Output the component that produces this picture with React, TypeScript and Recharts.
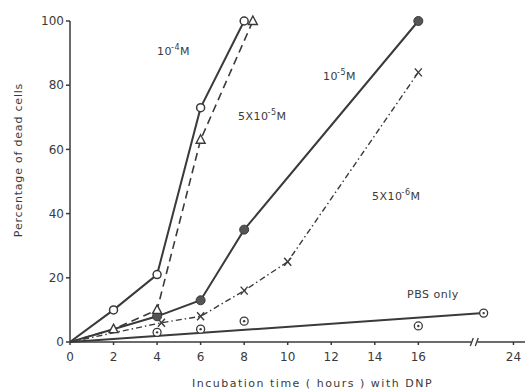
import React from 'react';
import { LineChart, Line, XAxis, YAxis, ReferenceDot } from 'recharts';

// hours and % dead cells
const TIME_1E4 = [0, 2, 4, 6, 8];
const DEAD_1E4 = [0, 10, 21, 73, 100];

const TIME_5E5 = [0, 2, 4, 6, 8.4];
const DEAD_5E5 = [0, 4, 10, 63, 100];

const TIME_1E5 = [0, 4, 6, 8, 16];
const DEAD_1E5 = [0, 8, 13, 35, 100];

const TIME_5E6 = [0, 4.2, 6, 8, 10, 16];
const DEAD_5E6 = [0, 6, 8, 16, 25, 84];

const TIME_PBS = [4, 6, 8, 16, 22];
const DEAD_PBS = [3, 4, 6.5, 5, 9];
const TIME_PBS_FIT = [0, 22];
const DEAD_PBS_FIT = [0, 9];

const X_TICKS = [0, 2, 4, 6, 8, 10, 12, 14, 16, 24];
const Y_TICKS = [0, 20, 40, 60, 80, 100];

// broken axis: linear up to 16 h, then jumps so that 22 h and 24 h sit past the break
const toAxis = (t: number) => (t <= 16 ? t : 19 + (t - 22) * 0.685);
const BREAK_AT = 18.57;

const pts = (times: number[], vals: number[]) =>
  times.map((t, i) => ({ x: toAxis(t), hours: t, y: vals[i] }));

const INK = '#3a3a3a';
const FONT = '"DejaVu Sans", sans-serif';

const OpenCircle = (p: any) =>
  p.payload.hours === 0 ? <g key={p.index} /> : (
    <circle key={p.index} cx={p.cx} cy={p.cy} r={4} fill="#fff" stroke={INK} strokeWidth={1.5} />
  );

const Triangle = (p: any) =>
  p.payload.hours === 0 ? <g key={p.index} /> : (
    <path
      key={p.index}
      d={`M${p.cx},${p.cy - 5} L${p.cx + 4.5},${p.cy + 3.5} L${p.cx - 4.5},${p.cy + 3.5} Z`}
      fill="#fff"
      stroke={INK}
      strokeWidth={1.4}
    />
  );

const FilledCircle = (p: any) =>
  p.payload.hours === 0 ? <g key={p.index} /> : (
    <circle key={p.index} cx={p.cx} cy={p.cy} r={4.5} fill="#555" stroke={INK} strokeWidth={1} />
  );

const Cross = (p: any) =>
  p.payload.hours === 0 ? <g key={p.index} /> : (
    <g key={p.index} stroke={INK} strokeWidth={1.4}>
      <line x1={p.cx - 3.5} y1={p.cy - 4} x2={p.cx + 3.5} y2={p.cy + 4} />
      <line x1={p.cx + 3.5} y1={p.cy - 4} x2={p.cx - 3.5} y2={p.cy + 4} />
    </g>
  );

const DotCircle = (p: any) => (
  <g key={p.index}>
    <circle cx={p.cx} cy={p.cy} r={4} fill="#fff" stroke={INK} strokeWidth={1.3} />
    <circle cx={p.cx} cy={p.cy} r={1.2} fill={INK} />
  </g>
);

const AxisBreak = (p: any) => (
  <g stroke={INK} strokeWidth={1.3}>
    <rect x={p.cx - 3} y={p.cy - 3} width={6} height={6} fill="#fff" stroke="none" />
    <line x1={p.cx - 4} y1={p.cy + 4} x2={p.cx - 1} y2={p.cy - 4} />
    <line x1={p.cx + 1} y1={p.cy + 4} x2={p.cx + 4} y2={p.cy - 4} />
  </g>
);

const Label = ({ left, top, children }: any) => (
  <div
    style={{
      position: 'absolute',
      left,
      top,
      fontFamily: FONT,
      fontSize: 11,
      lineHeight: '14px',
      color: INK,
      letterSpacing: 0.5,
      whiteSpace: 'nowrap',
    }}
  >
    {children}
  </div>
);

const sup = { fontSize: 8, verticalAlign: 5, marginLeft: -1 } as const;

export default function App() {
  const tick = { fill: INK, fontSize: 12, fontFamily: FONT };
  return (
    <div style={{ position: 'absolute', left: 0, top: 0, width: 525, height: 391, background: '#fff' }}>
      <LineChart width={525} height={391} margin={{ top: 21, right: 0, bottom: 19, left: 20 }}>
        <XAxis
          type="number"
          dataKey="x"
          domain={[0, 20.9]}
          ticks={X_TICKS.map(toAxis)}
          tickFormatter={(v: number) => String(X_TICKS[X_TICKS.map(toAxis).indexOf(v)] ?? '')}
          tick={tick}
          tickSize={3}
          tickMargin={7}
          height={30}
          stroke={INK}
          strokeWidth={1.5}
          allowDataOverflow
        />
        <YAxis
          type="number"
          domain={[0, 100]}
          ticks={Y_TICKS}
          tick={tick}
          tickSize={4}
          tickMargin={2}
          width={50}
          stroke={INK}
          strokeWidth={1.5}
        />
        <Line
          data={pts(TIME_PBS_FIT, DEAD_PBS_FIT)}
          dataKey="y"
          stroke={INK}
          strokeWidth={2}
          dot={false}
          isAnimationActive={false}
        />
        <Line
          data={pts(TIME_PBS, DEAD_PBS)}
          dataKey="y"
          stroke="none"
          dot={DotCircle}
          isAnimationActive={false}
        />
        <Line
          data={pts(TIME_5E6, DEAD_5E6)}
          dataKey="y"
          stroke={INK}
          strokeWidth={1.4}
          strokeDasharray="6 3 1.5 3"
          dot={Cross}
          isAnimationActive={false}
        />
        <Line
          data={pts(TIME_1E5, DEAD_1E5)}
          dataKey="y"
          stroke={INK}
          strokeWidth={2}
          dot={FilledCircle}
          isAnimationActive={false}
        />
        <Line
          data={pts(TIME_5E5, DEAD_5E5)}
          dataKey="y"
          stroke={INK}
          strokeWidth={1.6}
          strokeDasharray="8 5"
          dot={Triangle}
          isAnimationActive={false}
        />
        <Line
          data={pts(TIME_1E4, DEAD_1E4)}
          dataKey="y"
          stroke={INK}
          strokeWidth={2}
          dot={OpenCircle}
          isAnimationActive={false}
        />
        <ReferenceDot x={BREAK_AT} y={0} shape={AxisBreak} />
      </LineChart>

      <Label left={157} top={41}>
        10<span style={sup}>-4</span>M
      </Label>
      <Label left={238} top={106}>
        5X10<span style={sup}>-5</span>M
      </Label>
      <Label left={323} top={66}>
        10<span style={sup}>-5</span>M
      </Label>
      <Label left={372} top={186}>
        5X10<span style={sup}>-6</span>M
      </Label>
      <Label left={407} top={288}>
        PBS only
      </Label>

      <div
        style={{
          position: 'absolute',
          left: 192,
          top: 377,
          fontFamily: FONT,
          fontSize: 11,
          letterSpacing: 1.5,
          color: INK,
          whiteSpace: 'nowrap',
        }}
      >
        Incubation time ( hours ) with DNP
      </div>
      <div
        style={{
          position: 'absolute',
          left: 18,
          top: 160,
          transform: 'translate(-50%, -50%) rotate(-90deg)',
          fontFamily: FONT,
          fontSize: 11,
          letterSpacing: 0.8,
          color: INK,
          whiteSpace: 'nowrap',
        }}
      >
        Percentage of dead cells
      </div>
    </div>
  );
}
